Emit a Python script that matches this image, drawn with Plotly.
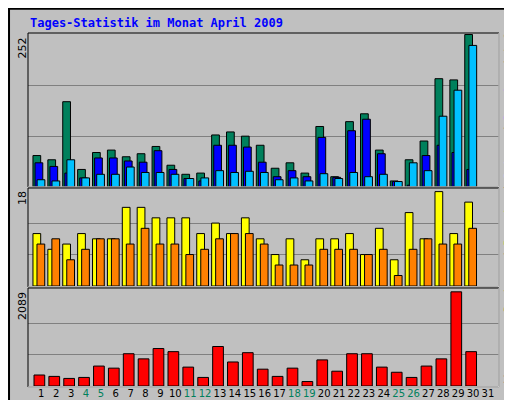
import plotly.graph_objects as go

days = list(range(1, 32))
anfragen = [52, 45, 141, 29, 57, 61, 50, 55, 67, 36, 21, 23, 86, 91, 84, 69, 31, 40, 23, 100, 17, 108, 121, 61, 10, 45, 76, 179, 177, 252, None]
dateien = [40, 34, 23, 15, 48, 48, 43, 41, 60, 29, 14, 10, 69, 69, 66, 41, 17, 27, 17, 82, 16, 93, 112, 55, 9, 3, 52, 69, 57, 29, None]
seiten = [12, 10, 45, 15, 21, 21, 33, 24, 24, 21, 14, 15, 27, 24, 26, 24, 12, 15, 10, 22, 14, 24, 17, 21, 9, 40, 27, 117, 160, 234, None]
besuche = [10, 7, 8, 10, 9, 9, 15, 15, 13, 13, 13, 10, 12, 10, 13, 9, 6, 9, 5, 9, 9, 10, 6, 11, 5, 14, 9, 18, 10, 16, None]
rechner = [8, 9, 5, 7, 9, 9, 8, 11, 8, 8, 6, 7, 9, 10, 10, 8, 4, 4, 4, 7, 7, 7, 6, 7, 2, 7, 9, 8, 8, 11, None]
kbytes = [244, 213, 168, 190, 442, 396, 716, 602, 831, 762, 419, 190, 876, 533, 739, 373, 213, 396, 99, 579, 328, 716, 716, 419, 305, 190, 442, 602, 2089, 762, None]
weekend = {4, 5, 11, 12, 18, 19, 25, 26}

W, H = 512, 400
def fy(px):
    return (H - px) / H

fig = go.Figure()
line = dict(color="black", width=1)
def bar(y, color, off, wid, xa, ya):
    fig.add_trace(go.Bar(x=days, y=y, marker=dict(color=color, line=line), offset=off, width=wid,
                         xaxis=xa, yaxis=ya, showlegend=False, hoverinfo="y"))

bar(anfragen, "#00805c", -0.56, 0.52, "x", "y")
bar(dateien, "#0000ff", -0.42, 0.52, "x", "y")
bar(seiten, "#00c0ff", -0.28, 0.52, "x", "y")
bar(besuche, "#ffff00", -0.56, 0.52, "x2", "y2")
bar(rechner, "#ff8000", -0.29, 0.52, "x2", "y2")
bar(kbytes, "#ff0000", -0.49, 0.72, "x3", "y3")

xr = [0.107, 31.74]
xdom = [20 / W, 491 / W]
ticktext = [f"<span style='color:{'#00805c' if d in weekend else 'black'}'>{d}</span>" for d in days]
common_x = dict(range=xr, domain=xdom, showgrid=False, zeroline=False, showline=False, fixedrange=True)
fig.update_layout(
    width=W, height=H, margin=dict(l=0, r=0, t=0, b=0),
    paper_bgcolor="#c0c0c0", plot_bgcolor="#c0c0c0", barmode="overlay",
    xaxis=dict(**common_x, anchor="y", showticklabels=False),
    xaxis2=dict(**common_x, anchor="y2", showticklabels=False),
    xaxis3=dict(**common_x, anchor="y3", tickmode="array", tickvals=days, ticktext=ticktext,
                ticks="", tickangle=0, tickfont=dict(family="DejaVu Sans", size=10, color="black")),
    yaxis=dict(domain=[fy(179), fy(25)], range=[0, 252 * 1.01], tickvals=[84, 168],
               showticklabels=False, gridcolor="#808080", zeroline=False),
    yaxis2=dict(domain=[fy(278), fy(181)], range=[0, 18.5], tickvals=[6, 12],
                showticklabels=False, gridcolor="#808080", zeroline=False),
    yaxis3=dict(domain=[fy(378), fy(281)], range=[0, 2089 * 1.03], tickvals=[696, 1393],
                showticklabels=False, gridcolor="#808080", zeroline=False),
)

mono = "DejaVu Sans Mono"
fig.add_annotation(x=20 / W, y=fy(15), xref="paper", yref="paper", xanchor="left", yanchor="middle",
                   text="<b>Tages-Statistik im Monat April 2009</b>", showarrow=False,
                   font=dict(family=mono, size=12, color="#0000ff"))
for txt, ytop in [("252", 28), ("18", 181), ("2089", 282)]:
    fig.add_annotation(x=14 / W, y=fy(ytop), xref="paper", yref="paper", xanchor="center", yanchor="top",
                       text=txt, textangle=-90, showarrow=False,
                       font=dict(family="DejaVu Sans", size=11, color="black"))
sep = "<span style='color:black'> / </span>"
right = (f"<span style='color:#ff8000'>Rechner</span>{sep}<span style='color:#ffff00'>Besuche</span>{sep}"
         f"<span style='color:#00c0ff'>Seiten</span>{sep}<span style='color:#0000ff'>Dateien</span>{sep}"
         f"<span style='color:#00805c'>Anfragen</span>")
fig.add_annotation(x=500 / W, y=fy(149), xref="paper", yref="paper", xanchor="center", yanchor="middle",
                   text=right, textangle=-90, showarrow=False, font=dict(family=mono, size=11, color="black"))
fig.add_annotation(x=500 / W, y=fy(370), xref="paper", yref="paper", xanchor="center", yanchor="middle",
                   text="kb", textangle=-90, showarrow=False, font=dict(family=mono, size=11, color="#ff0000"))

shapes = [dict(type="rect", xref="paper", yref="paper", x0=0.002, y0=0.002, x1=0.998, y1=0.998,
               line=dict(color="black", width=2))]
for top, bot in [(25, 179), (180, 279), (280, 379)]:
    shapes.append(dict(type="rect", xref="paper", yref="paper", x0=xdom[0], x1=xdom[1], y0=fy(bot), y1=fy(top),
                       line=dict(color="black", width=1)))
    shapes.append(dict(type="line", xref="paper", yref="paper", x0=xdom[0], x1=xdom[1], y0=fy(bot), y1=fy(bot),
                       line=dict(color="white", width=1)))
    shapes.append(dict(type="line", xref="paper", yref="paper", x0=xdom[1], x1=xdom[1], y0=fy(bot), y1=fy(top),
                       line=dict(color="white", width=1)))
fig.update_layout(shapes=shapes)

fig.write_html("out.html")
